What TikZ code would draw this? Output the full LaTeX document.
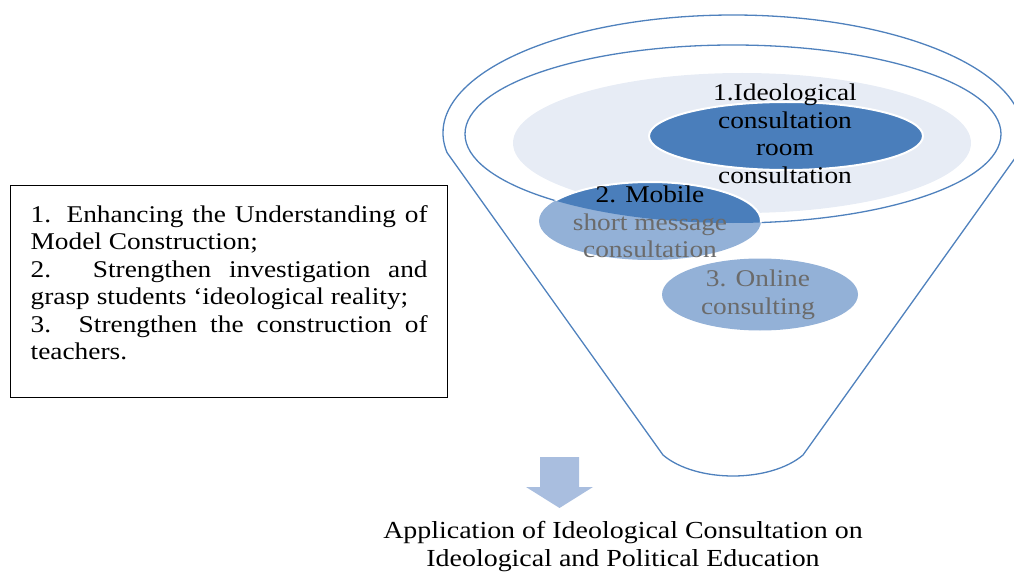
\documentclass[tikz,border=0pt]{standalone}
\usepackage{fontspec}
\setmainfont[FakeStretch=1.14]{Liberation Serif}
\usepackage{xcolor}
\definecolor{funnelblue}{HTML}{4F81BD}
\definecolor{darkblue}{HTML}{4A7EBB}
\definecolor{midblue}{HTML}{93B1D7}
\definecolor{paleblue}{HTML}{E7ECF5}
\definecolor{arrowblue}{HTML}{A9BEDF}
\definecolor{softgray}{HTML}{6B6B6B}

\begin{document}
\begin{tikzpicture}[x=1pt, y=-1pt,
  rim/.style={draw=funnelblue, line width=1.3pt},
  label/.style={font=\fontsize{24}{27.5}\selectfont, align=center, inner sep=0pt}]
 \useasboundingbox (0,0) rectangle (1014,572);
  % funnel and its rim
  \draw[rim] (733,133) ++(170.4:290 and 118) arc[start angle=170.4, end angle=369.6, x radius=290, y radius=118]
    -- (803,455) .. controls (770,483) and (696,483) .. (663,455) -- cycle;
  \draw[rim] (733,134) ellipse [x radius=268, y radius=89];
  \fill[paleblue] (742,143) ellipse [x radius=229, y radius=70];
  \filldraw[fill=darkblue, draw=white, line width=2pt] (786,136) ellipse [x radius=137, y radius=34];
  \fill[midblue] (650,221) ellipse [x radius=111, y radius=39];
  \begin{scope}
    \clip (733,134) ellipse [x radius=268, y radius=89];
    \filldraw[fill=darkblue, draw=white, line width=2pt] (650,221) ellipse [x radius=111, y radius=39];
  \end{scope}
  \fill[midblue] (760,294.5) ellipse [x radius=98, y radius=36];
  \node[label] (room) at (785,134) {1.Ideological\\consultation\\room\\consultation};
  \node[label] (mobile) at (650,222) {2. Mobile\\{\color{softgray}short message}\\{\color{softgray}consultation}};
  \node[label, text=softgray] (online) at (758,295) {3. Online\\consulting};
  % measures
  \node[draw, line width=1.3pt, anchor=north west, text width=397pt, align=justify,
    inner xsep=20pt, inner ysep=20pt, font=\fontsize{24}{27.4}\selectfont] (measures) at (10,185)
    {1. Enhancing the Understanding of\linebreak Model Construction;\\
     2. Strengthen investigation and\linebreak grasp students ‘ideological reality;\\
     3. Strengthen the construction of\linebreak teachers.\rule[-18pt]{0pt}{0pt}};
  % result
  \fill[arrowblue] (540,457) -- (579,457) -- (579,487) -- (593,487) -- (559.5,508) -- (526,487) -- (540,487) -- cycle;
  \node[font=\fontsize{24.5}{28}\selectfont, align=center, inner sep=0pt] (result) at (623,547)
    {Application of Ideological Consultation on\\Ideological and Political Education};
\end{tikzpicture}
\end{document}
